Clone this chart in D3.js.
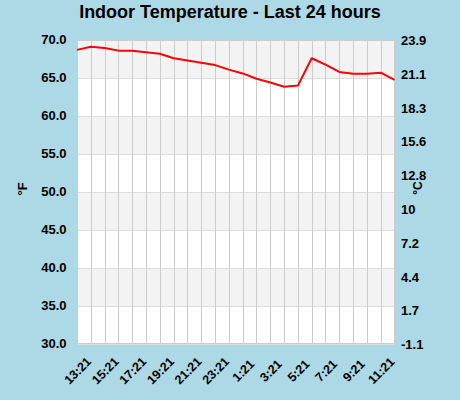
<!DOCTYPE html>
<html>
<head>
<meta charset="utf-8">
<script src="https://cdn.jsdelivr.net/npm/d3@7"></script>
<style>
  body { margin: 0; background: #add8e6; }
  svg { display: block; }
  text { font-family: "Liberation Sans", Arial, sans-serif; font-weight: bold; fill: #000; }
</style>
</head>
<body>
<svg id="chart" width="460" height="400"></svg>
<script>
const titleText = "Indoor Temperature - Last 24 hours";
const times = ["13:21","14:21","15:21","16:21","17:21","18:21","19:21","20:21","21:21","22:21","23:21","0:21",
               "1:21","2:21","3:21","4:21","5:21","6:21","7:21","8:21","9:21","10:21","11:21","12:21"];
const tempF = [68.7, 69.1, 68.95, 68.6, 68.6, 68.4, 68.2, 67.6, 67.3, 67.0, 66.7, 66.1,
               65.6, 64.9, 64.4, 63.85, 64.0, 67.6, 66.75, 65.8, 65.55, 65.55, 65.7, 64.75];
const fTicks = [30, 35, 40, 45, 50, 55, 60, 65, 70];
const cTicks = [23.9, 21.1, 18.3, 15.6, 12.8, 10, 7.2, 4.4, 1.7, -1.1];
const xLabels = times.filter((t, i) => i % 2 === 0);

const L = 77, R = 395, T = 40, B = 344;
const svg = d3.select("#chart");
svg.append("rect").attr("width", 460).attr("height", 400).attr("fill", "#add8e6");

const x = d3.scalePoint().domain(times).range([L, R - 0.5]);
const y = d3.scaleLinear().domain([30, 70]).range([B, T]);
const yc = d3.scaleLinear().domain([-1.1, 23.9]).range([B, T]);

// plot background + bands
svg.append("rect").attr("x", L).attr("y", T).attr("width", R - L).attr("height", B - T).attr("fill", "#fff");
const bands = d3.range(fTicks.length - 1).filter(i => i % 2 === 1);
svg.append("g").selectAll("rect").data(bands).join("rect")
  .attr("x", L).attr("width", R - L)
  .attr("y", i => y(fTicks[i + 1])).attr("height", i => y(fTicks[i]) - y(fTicks[i + 1]))
  .attr("fill", "#f3f3f3");

// horizontal grid
svg.append("g").selectAll("line").data(fTicks).join("line")
  .attr("x1", L).attr("x2", R)
  .attr("y1", d => Math.round(y(d)) + 0.5).attr("y2", d => Math.round(y(d)) + 0.5)
  .attr("stroke", "#dcdcdc").attr("stroke-width", 1);

// vertical grid
svg.append("g").selectAll("line").data(times).join("line")
  .attr("x1", d => Math.round(x(d)) + 0.5).attr("x2", d => Math.round(x(d)) + 0.5)
  .attr("y1", T).attr("y2", B)
  .attr("stroke", "#cccccc").attr("stroke-width", 1);

// frame
svg.append("rect").attr("x", L + 0.5).attr("y", T + 0.5).attr("width", R - L - 1).attr("height", B - T - 1)
  .attr("fill", "none").attr("stroke", "#cccccc");

// line
const line = d3.line().x((d, i) => x(times[i])).y(d => y(d));
svg.append("path").datum(tempF).attr("d", line)
  .attr("fill", "none").attr("stroke", "#ff0000").attr("stroke-width", 2).attr("stroke-linejoin", "round");

// left axis
const ga = svg.append("g").attr("transform", `translate(${L},-1)`)
  .call(d3.axisLeft(y).tickValues(fTicks).tickFormat(d3.format(".1f")).tickSize(0).tickPadding(10.5));
ga.select(".domain").remove();
ga.selectAll("text").style("font-size", "13px").style("font-family", "'Liberation Sans', Arial, sans-serif").attr("dy", "0.36em");

// right axis
const gc = svg.append("g").attr("transform", `translate(${R},-0.5)`)
  .call(d3.axisRight(yc).tickValues(cTicks).tickFormat(d => String(d)).tickSize(0).tickPadding(6));
gc.select(".domain").remove();
gc.selectAll("text").style("font-size", "13px").style("font-family", "'Liberation Sans', Arial, sans-serif").attr("dy", "0.36em");

// bottom axis
const gb = svg.append("g").attr("transform", `translate(0,${B})`)
  .call(d3.axisBottom(x).tickValues(xLabels).tickSize(0));
gb.select(".domain").remove();
gb.selectAll("text")
  .style("font-size", "12.5px").style("font-family", "'Liberation Sans', Arial, sans-serif")
  .attr("y", 0).attr("dy", "0.36em").attr("text-anchor", "middle")
  .attr("transform", "translate(0,26.5) rotate(-45)");

// title
svg.append("text").attr("x", 230).attr("y", 17.5).attr("text-anchor", "middle")
  .style("font-size", "18px").text(titleText);

// axis titles
svg.append("text").attr("transform", "translate(26.5,189) rotate(-90)").attr("text-anchor", "middle")
  .style("font-size", "13px").text("°F");
svg.append("text").attr("transform", "translate(422,188) rotate(-90)").attr("text-anchor", "middle")
  .style("font-size", "12px").text("°C");
</script>
</body>
</html>
